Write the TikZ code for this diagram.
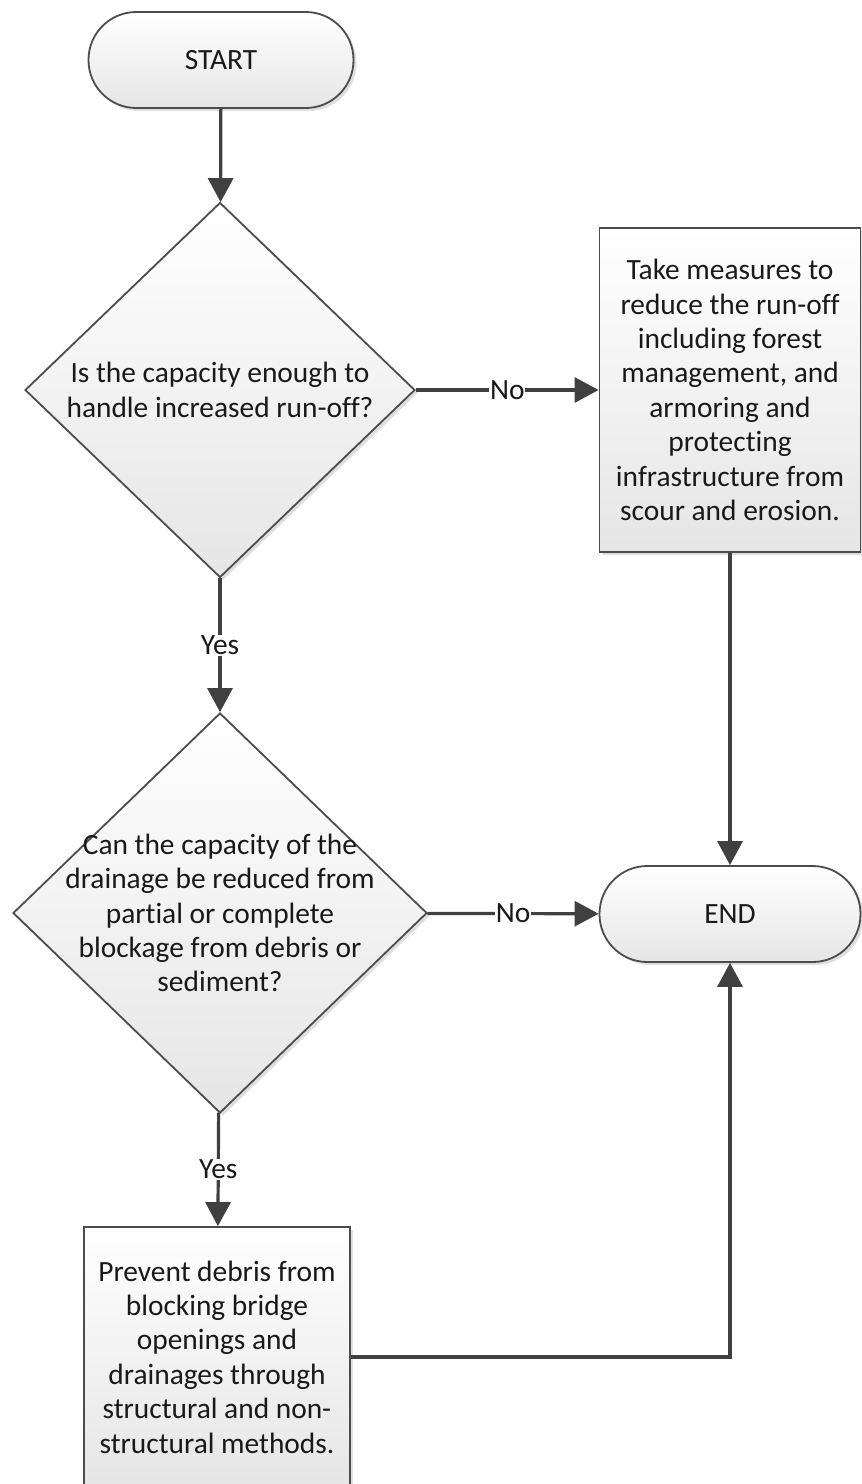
\documentclass[tikz,border=0pt]{standalone}
\usepackage{fontspec}
\setmainfont{Carlito}[Ligatures=NoCommon]
\usetikzlibrary{arrows.meta,shapes.geometric,shadows}

\begin{document}
\begin{tikzpicture}[x=0.5pt,y=-0.5pt,
  every node/.style={font=\fontsize{14.7}{17.2}\selectfont, text=black!90},
  box/.style={draw=black!70, line width=0.9pt, top color=white, bottom color=black!10,
    drop shadow={shadow xshift=1.5pt,shadow yshift=-1.5pt,opacity=0.25}, align=center, inner sep=0pt},
  term/.style={box, rounded corners=23.9pt, minimum width=132.5pt, minimum height=48pt},
  decision/.style={box, diamond},
  flow/.style={draw=black!75, line width=1.6pt, -{Triangle[length=12pt,width=12.5pt]}},
  lbl/.style={fill=white, inner sep=0.5pt}]
\useasboundingbox (0,0) rectangle (862,1484);

\node[term] (start) at (221,60) {START};
\node[decision, minimum width=195pt, minimum height=187.5pt] (dec1) at (220,390) {};
\node[align=center] (q1) at (dec1) {Is the capacity enough to\\handle increased run-off?};
\node[box, minimum width=130.5pt, minimum height=162pt] (take) at (730,390)
  {Take measures to\\reduce the run-off\\including forest\\management, and\\armoring and\\protecting\\infrastructure from\\scour and erosion.};

\node[decision, minimum width=207pt, minimum height=200pt] (dec2) at (220,913) {};
\node[align=center] (q2) at (dec2) {Can the capacity of the\\drainage be reduced from\\partial or complete\\blockage from debris or\\sediment?};
\node[term, minimum width=130.5pt] (endn) at (730,914) {END};

\node[box, minimum width=133pt, minimum height=130pt] (prevent) at (217,1357)
  {Prevent debris from\\blocking bridge\\openings and\\drainages through\\structural and non-\\structural methods.};

% connectors
\draw[flow] (start) -- (dec1);
\draw[flow] (dec1) -- node[lbl] {No} (take);
\draw[flow] (dec1) -- node[lbl] {Yes} (dec2);
\draw[flow] (take) -- (endn);
\draw[flow] (dec2) -- node[lbl] {No} (endn);
\draw[flow] (dec2) -- node[lbl] {Yes} (prevent);
\draw[flow] (prevent) -| (endn);
\end{tikzpicture}
\end{document}
